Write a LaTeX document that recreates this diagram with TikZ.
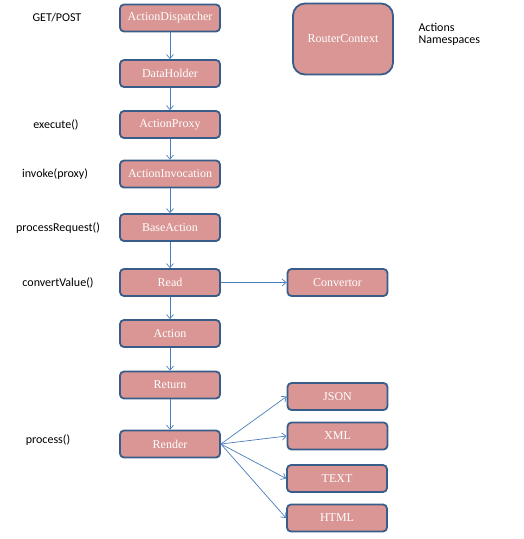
\documentclass[tikz,border=0pt]{standalone}
\usepackage{fontspec}
\setmainfont{Liberation Serif}
\newfontfamily\labelfont{Carlito}
\definecolor{boxFill}{HTML}{D99694}
\definecolor{boxLine}{HTML}{385D8A}
\definecolor{flowBlue}{HTML}{4A7EBB}
\usetikzlibrary{arrows.meta, positioning}

\begin{document}
\begin{tikzpicture}[x=1pt, y=-1pt,
    stage/.style={draw=boxLine, fill=boxFill, line width=1.8pt, rounded corners=4pt,
      minimum width=100pt, minimum height=27pt, inner sep=0pt,
      text=white, font=\fontsize{12}{14}\selectfont},
    hint/.style={font=\labelfont\fontsize{12}{14}\selectfont, align=left},
    flow/.style={draw=flowBlue, line width=0.7pt, -{Straight Barb[length=4pt, width=7pt]}}]
  \useasboundingbox (0,0) rectangle (523,539);

  % Main chain
  \node[stage] (dispatcher) at (170,18) {ActionDispatcher};
  \node[stage] (holder) at (170,73.5) {DataHolder};
  \node[stage] (proxy) at (170,124.5) {ActionProxy};
  \node[stage] (invocation) at (170,174) {ActionInvocation};
  \node[stage] (base) at (170,227.5) {BaseAction};
  \node[stage] (read) at (170,282.5) {Read};
  \node[stage] (action) at (170,333.5) {Action};
  \node[stage] (return) at (170,385) {Return};
  \node[stage] (render) at (170,444) {Render};

  % Side boxes
  \node[stage, minimum height=71pt, rounded corners=12pt] (router) at (343,39) {RouterContext};
  \node[stage] (convertor) at (337.5,282.5) {Convertor};
  \node[stage] (json) at (337.5,396.5) {JSON};
  \node[stage] (xml) at (337.5,436) {XML};
  \node[stage] (text) at (337,478.5) {TEXT};
  \node[stage] (html) at (337,518) {HTML};

  % Labels
  \node[hint] (getpost) at (57,18) {GET/POST};
  \node[hint] (execute) at (56,125) {execute()};
  \node[hint] (invoke) at (55,174) {invoke(proxy)};
  \node[hint] (request) at (58,228) {processRequest()};
  \node[hint] (convert) at (58,283) {convertValue()};
  \node[hint] (process) at (48,440) {process()};
  \node[hint, anchor=west] (spaces) at (415,34.5) {Actions\\[-2.5pt]Namespaces};

  % Arrows
  \draw[flow] (dispatcher) -- (holder);
  \draw[flow] (holder) -- (proxy);
  \draw[flow] (proxy) -- (invocation);
  \draw[flow] (invocation) -- (base);
  \draw[flow] (base) -- (read);
  \draw[flow] (read) -- (action);
  \draw[flow] (action) -- (return);
  \draw[flow] (return) -- (render);
  \draw[flow] (read) -- (convertor);
  \draw[flow] (render.east) -- (json.west);
  \draw[flow] (render.east) -- (xml.west);
  \draw[flow] (render.east) -- (text.west);
  \draw[flow] (render.east) -- (html.west);
\end{tikzpicture}
\end{document}
